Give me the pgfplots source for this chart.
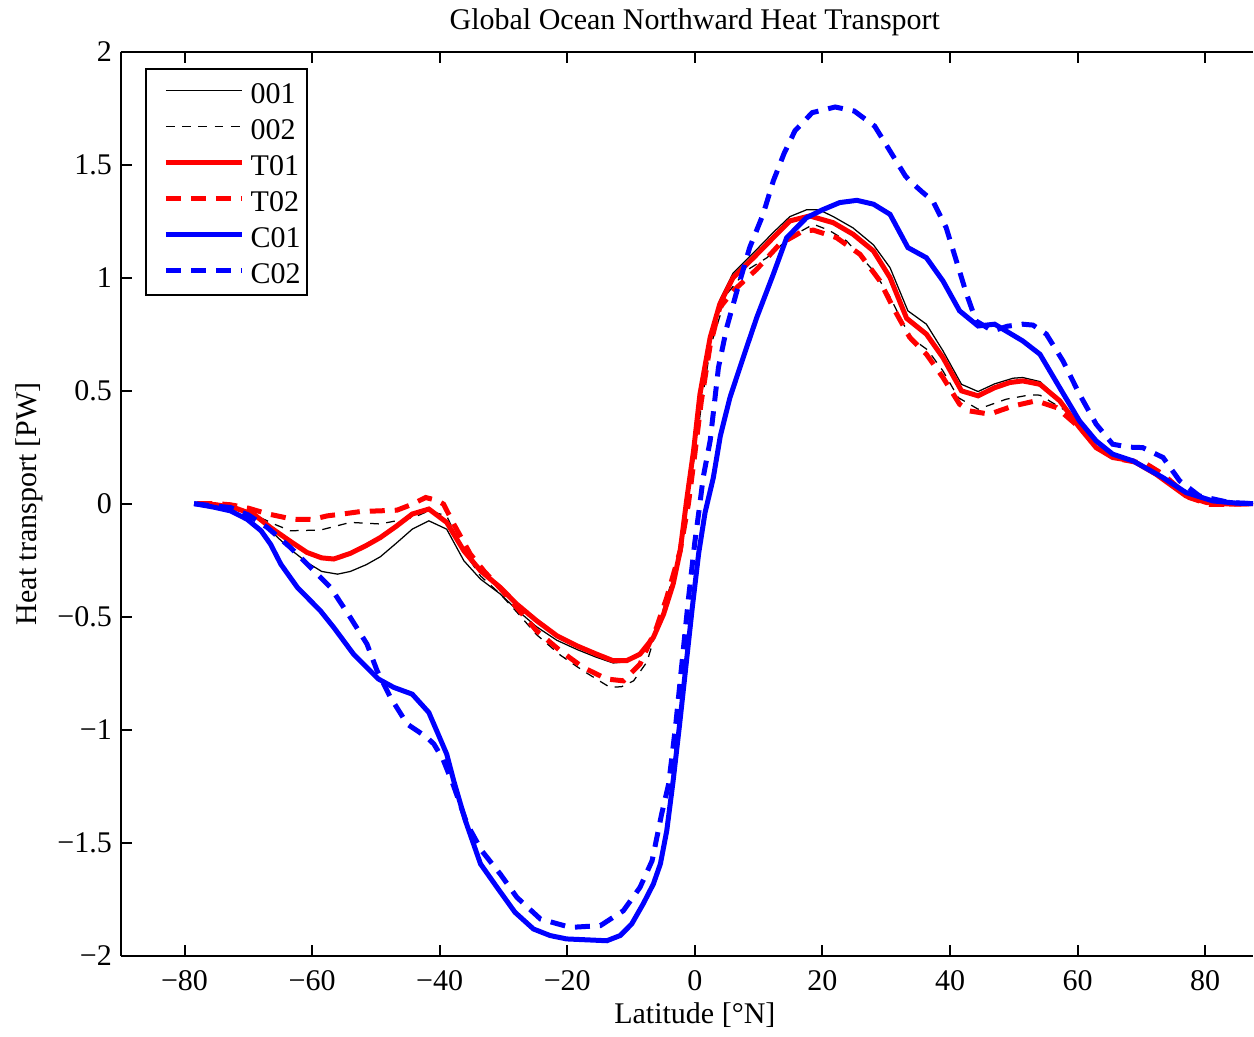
\documentclass[border=0pt]{standalone}
\usepackage{fontspec}
\setmainfont{Liberation Serif}
\usepackage{pgfplots}
\pgfplotsset{compat=1.18}
\begin{document}
\begin{tikzpicture}[font=\fontsize{12pt}{14.4pt}\selectfont]
\path (-48.3pt,-30.8pt) rectangle (453.3pt,382pt);
\begin{axis}[
  at={(0pt,0pt)}, anchor=south west,
  scale only axis,
  width=453pt, height=361.7pt,
  xmin=-90, xmax=87.5, ymin=-2, ymax=2,
  axis y line*=left,
  axis line style={line width=0.8pt},
  every tick/.style={black, line width=0.8pt},
  major tick length=4.4pt,
  xtick={-80,-60,-40,-20,0,20,40,60,80},
  xticklabels={−80,−60,−40,−20,0,20,40,60,80},
  ytick={-2,-1.5,-1,-0.5,0,0.5,1,1.5,2},
  yticklabels={−2,−1.5,−1,−0.5,0,0.5,1,1.5,2},
  xticklabel style={anchor=base, yshift=-14pt},
  title={Global Ocean Northward Heat Transport},
  title style={at={(axis cs:0,2)}, anchor=base, yshift=3pt},
  xlabel={Latitude [°N]},
  xlabel style={at={(axis cs:0,-2)}, anchor=base, yshift=-27.3pt},
  legend cell align=left,
  legend image code/.code={\path[draw=none] (0pt,0pt) -- (5.5pt,0pt); \draw[#1] (5.5pt,0.5pt) -- (35.9pt,0.5pt);},
  legend style={at={(rel axis cs:0,1)}, anchor=north west, xshift=9.7pt, yshift=-6.6pt,
    draw=black, line width=0.8pt, inner xsep=2.5pt, inner ysep=2pt, column sep=2.5pt,
    nodes={inner sep=0pt, text height=11.7pt, text depth=2.7pt}},
]
\addplot[black, line width=0.5pt] coordinates {
(-78,0) (-75,-0.005) (-72,-0.02) (-69,-0.05) (-66.5,-0.12) (-63.5,-0.2) (-60.8,-0.26) (-58.5,-0.3) (-56,-0.312) (-54,-0.30) (-51.5,-0.27) (-49.3,-0.235) (-46.8,-0.175) (-44.3,-0.113) (-41.7,-0.076) (-38.9,-0.113) (-36.2,-0.253) (-33.6,-0.334) (-30.5,-0.40) (-27.9,-0.47) (-24.8,-0.545) (-21.6,-0.605) (-18.5,-0.645) (-15.4,-0.68) (-12.8,-0.705) (-10.7,-0.70) (-8.6,-0.67) (-6.5,-0.595) (-4.9,-0.49) (-3.4,-0.36) (-2.3,-0.21) (-1.3,0.0) (-0.2,0.22) (0.8,0.48) (2.4,0.74) (3.9,0.90) (6,1.02) (9.2,1.11) (12.3,1.20) (14.9,1.27) (17.5,1.30) (19.5,1.30) (21.7,1.27) (24.8,1.22) (28,1.145) (30.6,1.044) (33.4,0.853) (36.3,0.794) (38.9,0.676) (41.8,0.528) (44.4,0.496) (47,0.53) (49.9,0.555) (51.4,0.558) (54.1,0.54) (57.2,0.46) (60.3,0.34) (62.9,0.25) (65.5,0.205) (68.7,0.19) (72.3,0.13) (77,0.035) (80.2,0.005) (84,0) (87.5,0)
};
\addlegendentry{001}
\addplot[black, line width=0.5pt, dash pattern=on 3.5pt off 3pt] coordinates {
(-78,0) (-75,-0.005) (-72,-0.02) (-69,-0.05) (-66,-0.09) (-63.4,-0.12) (-58.7,-0.117) (-54,-0.083) (-49.3,-0.09) (-44,-0.06) (-41.7,-0.032) (-38.9,-0.054) (-36.5,-0.2) (-33.6,-0.32) (-30.5,-0.40) (-27.9,-0.48) (-24.8,-0.58) (-21.1,-0.67) (-17.5,-0.74) (-13.3,-0.813) (-11.5,-0.81) (-9.6,-0.784) (-7.5,-0.70) (-6,-0.56) (-4.4,-0.42) (-2.5,-0.22) (-1.2,0.0) (0,0.22) (1.2,0.47) (2.5,0.70) (5,0.927) (8,1.03) (11.3,1.088) (15,1.18) (18.6,1.236) (21,1.21) (23.8,1.162) (28,1.03) (30.5,0.92) (32.7,0.794) (34.2,0.727) (36.5,0.68) (38.9,0.587) (41.3,0.469) (44.4,0.418) (48.8,0.462) (52.5,0.481) (54.1,0.48) (58.2,0.41) (60.3,0.34) (63,0.25) (65.5,0.205) (68.7,0.19) (72.3,0.13) (77,0.035) (80.2,0.005) (84,0) (87.5,0)
};
\addlegendentry{002}
\addplot[red, line width=2pt] coordinates {
(-78,0) (-75,-0.005) (-72,-0.02) (-69,-0.05) (-66.5,-0.106) (-63.5,-0.165) (-60.8,-0.216) (-58.5,-0.24) (-56.6,-0.245) (-54,-0.22) (-51.5,-0.185) (-49.3,-0.15) (-46.8,-0.1) (-44.3,-0.046) (-41.7,-0.024) (-38.9,-0.083) (-36.2,-0.209) (-33.6,-0.297) (-30.5,-0.371) (-27.9,-0.445) (-24.8,-0.518) (-21.6,-0.585) (-18.5,-0.629) (-15.4,-0.666) (-12.8,-0.695) (-10.7,-0.695) (-8.6,-0.666) (-6.5,-0.592) (-4.9,-0.489) (-3.4,-0.356) (-2.3,-0.209) (-1.3,0.012) (-0.2,0.234) (0.8,0.484) (2.4,0.735) (3.9,0.882) (6,1.0) (9.2,1.088) (12.3,1.177) (14.9,1.251) (18,1.273) (21.7,1.243) (24.8,1.192) (28,1.118) (30.6,1.0) (33.2,0.82) (36.3,0.75) (38.9,0.646) (41.8,0.499) (44.4,0.477) (47,0.513) (49.4,0.536) (51.4,0.543) (54.1,0.528) (57.2,0.455) (60.3,0.337) (62.9,0.248) (65.5,0.204) (68.7,0.189) (72.3,0.13) (77,0.034) (80.2,0.005) (84,-0.002) (87.5,0)
};
\addlegendentry{T01}
\addplot[red, line width=2pt, dash pattern=on 6pt off 4pt] coordinates {
(-78,0) (-75,0.0) (-72.8,-0.005) (-70,-0.02) (-67,-0.045) (-63,-0.069) (-60,-0.07) (-57.6,-0.054) (-55,-0.045) (-52.4,-0.035) (-49.5,-0.032) (-46.7,-0.029) (-44.5,-0.005) (-42.2,0.027) (-40.5,0.015) (-39.4,-0.002) (-37.8,-0.09) (-35.2,-0.223) (-33,-0.30) (-30.5,-0.375) (-27.9,-0.46) (-24.8,-0.563) (-21.1,-0.651) (-17.5,-0.725) (-13.8,-0.776) (-11.2,-0.784) (-8.6,-0.71) (-6,-0.548) (-4.4,-0.415) (-2.3,-0.209) (-1.0,0.0) (0.0,0.22) (1.0,0.45) (2.4,0.70) (3.9,0.867) (6,0.941) (9.7,1.037) (13.3,1.148) (17,1.207) (18.6,1.21) (22.2,1.177) (25.9,1.103) (29,0.986) (31.1,0.867) (33.7,0.735) (36.3,0.661) (38.9,0.558) (41.5,0.44) (43.1,0.41) (46.2,0.396) (49.9,0.432) (53.5,0.455) (56.7,0.425) (60.3,0.337) (63.4,0.248) (66.6,0.197) (70.8,0.175) (73.4,0.13) (77.5,0.027) (80.7,-0.003) (84,-0.003) (87.5,0)
};
\addlegendentry{T02}
\addplot[blue, line width=2pt] coordinates {
(-78.5,0) (-75.5,-0.015) (-72.8,-0.032) (-70.2,-0.069) (-68,-0.12) (-66.5,-0.18) (-64.9,-0.268) (-62.3,-0.371) (-58.7,-0.474) (-56.6,-0.548) (-53.5,-0.666) (-49.6,-0.776) (-47.2,-0.813) (-44.3,-0.843) (-41.7,-0.924) (-38.9,-1.108) (-37.8,-1.226) (-36,-1.40) (-33.6,-1.594) (-31,-1.698) (-28.2,-1.808) (-25.3,-1.882) (-22.7,-1.911) (-20.1,-1.926) (-13.8,-1.934) (-11.7,-1.911) (-9.9,-1.86) (-8.1,-1.771) (-6.5,-1.683) (-5.4,-1.594) (-4.4,-1.447) (-3.4,-1.226) (-2.4,-0.98) (-1.4,-0.72) (-0.4,-0.46) (0.6,-0.22) (1.6,-0.04) (2.9,0.115) (4,0.30) (5.5,0.469) (8.1,0.69) (9.7,0.823) (12.3,1.015) (14.4,1.177) (17.5,1.265) (20,1.30) (22.7,1.332) (25.4,1.342) (28,1.325) (30.6,1.28) (33.4,1.133) (36.3,1.088) (38.9,0.985) (41.5,0.853) (44.4,0.786) (47,0.794) (51.4,0.72) (54.1,0.661) (57.2,0.513) (60.3,0.366) (62.9,0.278) (65.5,0.219) (68.7,0.189) (73.4,0.115) (77,0.049) (81.2,0.012) (85,0.002) (87.5,0)
};
\addlegendentry{C01}
\addplot[blue, line width=2pt, dash pattern=on 6pt off 4pt] coordinates {
(-78.5,0) (-75.5,-0.01) (-72.8,-0.017) (-70,-0.05) (-67,-0.106) (-63.4,-0.194) (-59.7,-0.297) (-57.1,-0.371) (-54,-0.504) (-51.4,-0.621) (-49.8,-0.74) (-47.7,-0.858) (-45.1,-0.975) (-42,-1.034) (-40.9,-1.064) (-39.5,-1.13) (-37.8,-1.25) (-35.7,-1.418) (-33.4,-1.536) (-30.5,-1.639) (-27.9,-1.742) (-24.2,-1.838) (-19.5,-1.875) (-14.8,-1.867) (-11.2,-1.801) (-8.6,-1.698) (-6.7,-1.58) (-5.2,-1.373) (-4.1,-1.24) (-3,-0.98) (-2,-0.70) (-1,-0.42) (0,-0.17) (0.8,0.0) (1.3,0.115) (2.4,0.278) (3.7,0.602) (5,0.779) (6.6,0.941) (8.6,1.133) (10.7,1.28) (12.3,1.428) (14,1.55) (15.7,1.65) (18.4,1.73) (22,1.755) (25,1.737) (28.2,1.67) (30.6,1.56) (33,1.45) (33.7,1.428) (35.6,1.38) (37.3,1.34) (39.4,1.221) (41,1.074) (42.6,0.927) (44.1,0.808) (46.7,0.764) (49,0.785) (51.4,0.794) (53,0.79) (55.1,0.75) (57.7,0.632) (60.3,0.484) (62.9,0.352) (65.5,0.263) (68,0.25) (70.2,0.248) (73.4,0.204) (76,0.101) (79.1,0.034) (83.8,0.005) (87.5,0)
};
\addlegendentry{C02}
\end{axis}
\node[rotate=90, anchor=south, inner sep=0pt] at (-31.1pt,180.85pt) {Heat transport [PW]};
\end{tikzpicture}
\end{document}
